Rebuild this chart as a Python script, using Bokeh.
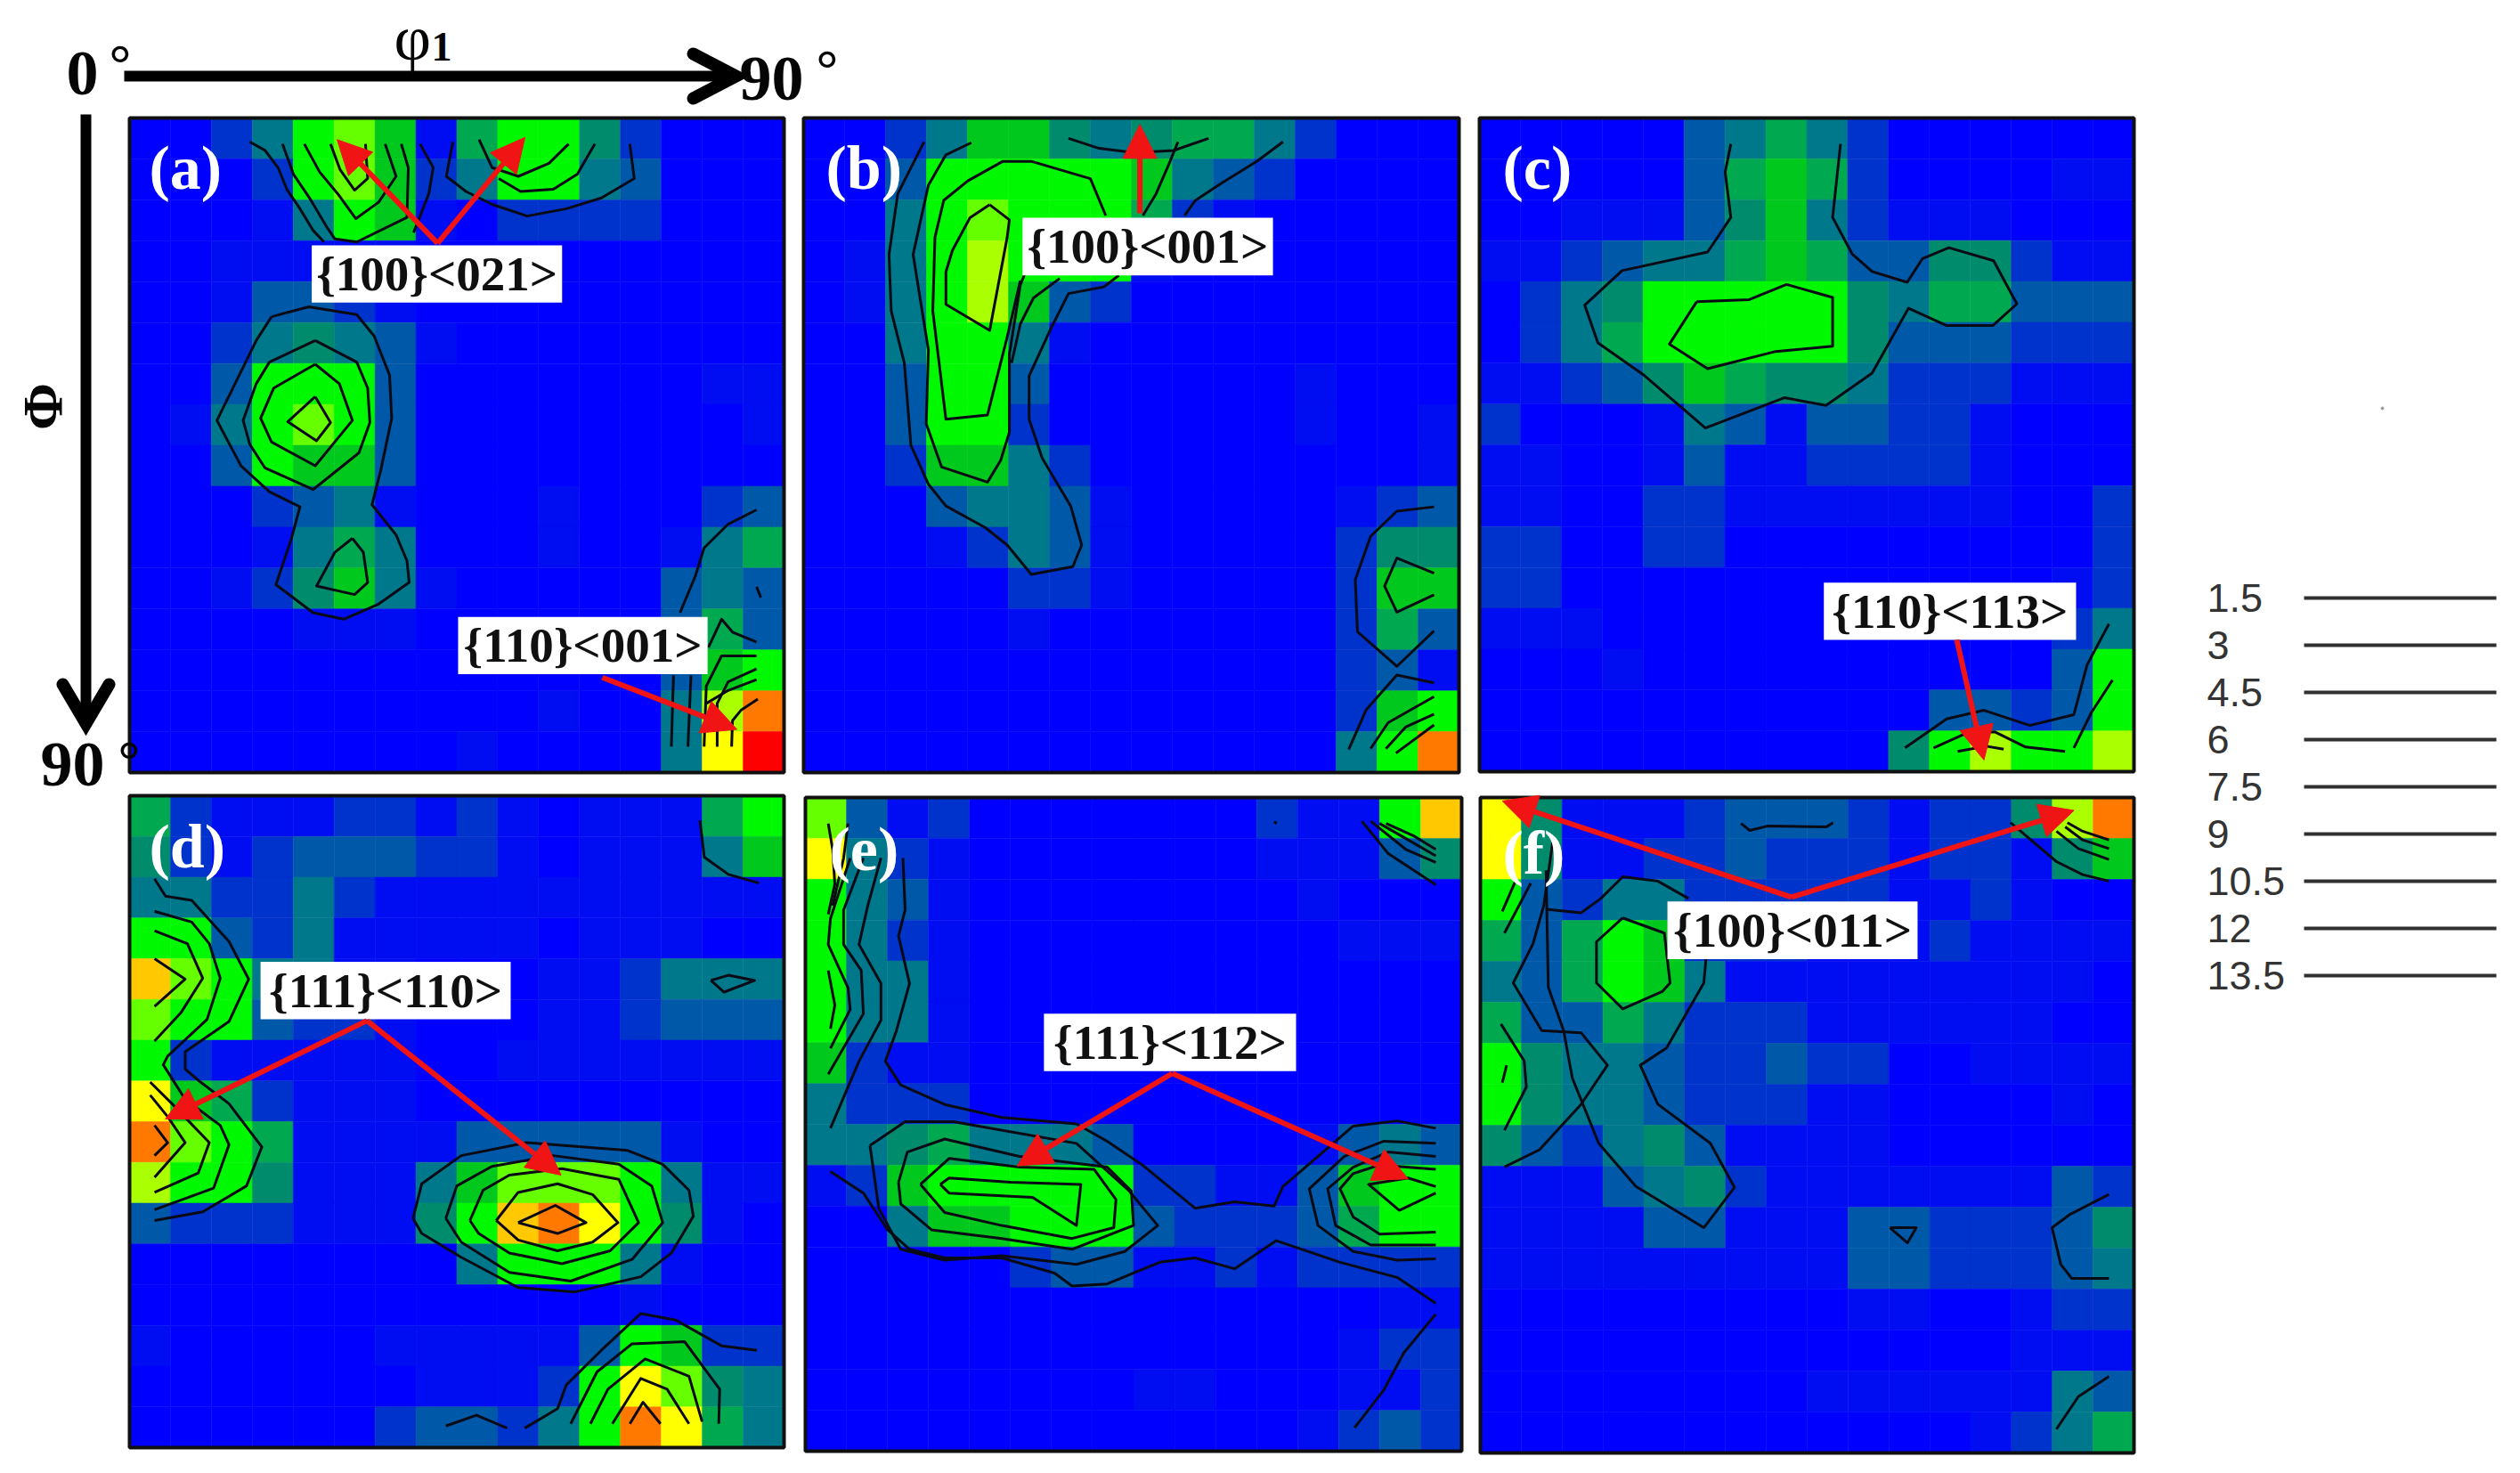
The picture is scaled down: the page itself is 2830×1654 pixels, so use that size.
from bokeh.plotting import figure
from bokeh.models import LinearColorMapper, Arrow, NormalHead, ColumnDataSource
from bokeh.core.properties import value
from bokeh.embed import file_html
from bokeh.resources import INLINE

# ODF intensity level (0..14) of every 5.6 degree cell, row by row from the top
LEVEL_COLORS = ["#0000ff", "#000df2", "#0032cc", "#0058a8", "#00788c", "#008c6c", "#00a850", "#00c81c",
                "#00f800", "#66ff00", "#aaff00", "#ffff00", "#ffc800", "#ff7800", "#ff0000"]

GRID_A = [
 [0,0,2,4,8,9,7,1,6,8,8,5,2,0,0,0],
 [0,0,0,2,8,9,7,2,4,8,8,4,3,0,0,0],
 [0,0,0,1,4,8,7,1,0,2,2,2,2,0,0,0],
 [0,0,1,1,1,1,1,0,0,0,0,0,0,0,0,0],
 [0,0,1,3,3,2,1,0,0,0,0,0,0,0,0,0],
 [0,0,2,4,5,4,3,1,0,0,0,0,0,0,0,0],
 [0,0,3,8,8,8,3,0,0,0,0,0,0,0,1,1],
 [0,1,4,8,9,8,3,0,0,0,0,0,0,0,0,1],
 [0,0,3,8,7,7,3,0,0,0,0,0,0,0,0,0],
 [0,0,0,2,3,4,1,0,0,0,1,0,0,0,2,3],
 [0,0,0,1,4,6,4,0,0,0,1,0,0,1,4,6],
 [0,0,1,2,5,7,4,1,0,0,0,0,0,3,4,3],
 [0,0,0,0,1,1,1,0,0,0,0,0,0,3,6,3],
 [0,0,0,0,0,0,0,0,0,0,0,0,0,3,7,8],
 [0,0,0,0,0,0,0,0,0,0,1,0,0,4,10,13],
 [0,0,0,0,0,0,0,0,1,0,0,0,0,4,11,14],
]
GRID_B = [
 [0,0,2,4,7,7,5,4,5,6,6,4,2,0,0,0],
 [0,0,3,8,8,8,8,8,7,4,3,2,0,0,0,0],
 [0,0,4,8,9,8,8,8,6,2,1,0,0,0,0,0],
 [0,1,4,8,10,8,8,8,1,0,0,0,0,0,0,0],
 [0,1,4,8,10,7,3,2,0,0,0,0,0,0,0,0],
 [0,0,4,8,8,4,1,0,0,0,0,0,0,0,0,0],
 [0,0,3,8,8,3,0,0,0,0,0,0,1,0,0,0],
 [0,0,3,8,8,2,0,0,0,0,0,0,1,0,0,1],
 [0,0,2,7,7,4,2,0,0,0,0,0,0,0,0,1],
 [0,0,0,3,4,4,3,1,0,0,0,0,0,1,2,3],
 [0,0,0,1,2,4,3,1,0,0,0,0,0,2,5,5],
 [0,0,0,0,0,2,2,1,0,0,0,0,0,2,7,7],
 [0,0,0,0,0,1,0,0,0,0,0,0,0,2,6,3],
 [0,0,0,0,0,0,0,0,0,0,0,0,0,2,3,1],
 [0,0,0,0,0,0,0,0,0,0,0,0,0,2,7,8],
 [0,0,0,0,0,0,0,0,0,0,0,0,0,4,8,13],
]
GRID_C = [
 [0,0,0,0,0,3,4,6,4,2,0,0,0,0,0,0],
 [0,0,0,0,0,3,6,7,6,2,0,0,0,0,1,1],
 [0,0,1,1,1,3,5,7,4,2,1,1,1,0,0,0],
 [1,1,2,3,4,4,6,7,6,3,3,5,5,2,1,1],
 [0,2,4,5,8,8,8,8,8,5,4,6,6,3,3,3],
 [0,2,4,6,8,8,8,8,8,5,3,3,3,2,2,2],
 [1,1,2,3,5,7,6,5,5,4,2,2,2,1,1,1],
 [2,0,0,0,1,4,3,1,3,3,2,2,1,0,0,0],
 [1,1,0,0,1,3,1,1,2,2,2,2,1,0,0,0],
 [1,1,0,0,2,2,1,1,1,1,1,1,1,0,0,2],
 [2,2,0,0,2,2,0,0,0,0,0,0,0,0,0,2],
 [2,2,0,0,0,0,0,0,0,0,0,0,0,0,1,2],
 [1,1,1,0,0,0,0,0,0,0,0,0,0,0,2,4],
 [0,0,0,1,0,0,0,0,0,0,0,0,0,0,3,8],
 [0,0,0,0,0,0,0,0,0,0,0,3,3,2,3,8],
 [0,0,0,0,0,0,0,0,0,0,5,8,10,8,8,10],
]
GRID_D = [
 [6,2,1,1,1,2,2,1,2,1,0,1,1,1,6,8],
 [5,2,1,2,3,3,3,2,2,1,0,1,1,1,4,7],
 [4,4,2,2,4,2,1,1,1,1,1,1,1,1,1,1],
 [8,8,3,2,4,1,1,1,1,1,0,1,1,1,0,0],
 [12,9,8,4,4,1,1,0,0,0,1,1,2,4,4,4],
 [9,8,8,3,2,2,1,0,0,0,1,1,2,3,3,3],
 [8,2,1,1,1,1,1,0,0,1,1,1,1,1,1,1],
 [11,7,6,2,1,1,1,0,0,0,0,0,0,0,0,0],
 [13,9,8,6,1,1,1,1,3,3,3,3,3,1,0,0],
 [10,8,8,5,1,1,1,4,7,9,9,9,8,4,1,1],
 [3,2,2,2,1,1,1,5,8,12,13,11,8,5,1,0],
 [0,0,0,0,0,0,0,0,4,8,8,8,4,1,0,0],
 [0,0,0,0,0,0,0,0,0,0,0,0,1,0,0,0],
 [1,0,0,0,0,0,1,1,1,1,1,3,8,7,2,2],
 [0,0,0,0,0,0,0,1,1,1,2,8,11,9,5,4],
 [0,0,0,0,0,0,2,3,3,2,4,8,13,11,6,4],
]
GRID_E = [
 [9,3,1,2,0,0,0,0,0,0,0,2,1,1,8,12],
 [11,4,2,1,0,0,0,0,0,0,0,1,1,1,3,5],
 [8,4,3,1,0,0,0,0,0,0,0,0,1,0,0,0],
 [8,4,2,1,0,0,0,0,0,0,0,0,0,1,1,1],
 [8,4,4,1,0,0,0,0,0,0,0,0,0,0,0,0],
 [8,4,4,1,0,0,0,0,0,0,0,0,0,0,0,0],
 [7,2,1,1,0,0,0,0,0,0,0,0,0,0,0,0],
 [4,2,2,2,0,0,0,0,0,0,0,0,0,0,0,0],
 [4,4,5,6,4,4,4,3,0,0,0,0,1,3,4,3],
 [1,2,7,8,8,8,8,8,2,2,1,1,3,7,8,8],
 [0,0,4,7,7,8,8,8,3,2,2,2,3,6,8,8],
 [0,0,0,0,0,2,3,3,1,1,2,1,2,2,2,2],
 [0,0,0,0,0,0,0,0,0,0,0,0,0,0,1,1],
 [0,0,0,0,0,0,0,0,0,0,0,0,0,1,2,2],
 [0,0,0,0,0,0,0,0,1,1,0,0,0,1,1,2],
 [0,0,0,0,0,0,0,0,0,0,0,0,1,2,3,2],
]
GRID_F = [
 [11,5,1,1,1,2,3,3,3,2,1,2,2,5,10,13],
 [11,5,1,1,2,2,3,2,2,2,1,2,2,1,5,7],
 [8,3,2,4,4,2,2,2,2,2,1,1,2,1,0,0],
 [6,3,6,8,7,2,2,2,1,1,1,2,1,1,1,1],
 [4,3,6,8,7,4,1,1,1,1,1,1,1,1,1,0],
 [6,3,3,6,4,2,2,2,1,1,1,1,1,1,0,0],
 [8,5,4,4,3,2,2,3,2,2,0,0,1,1,1,1],
 [8,5,4,4,3,2,2,2,1,1,0,0,0,0,1,0],
 [5,3,2,4,5,3,1,1,1,1,0,0,0,0,0,0],
 [1,1,1,3,4,5,2,1,1,1,1,1,1,1,3,2],
 [1,1,1,1,3,3,1,1,1,3,3,2,2,2,3,5],
 [1,1,1,1,1,1,1,1,1,3,3,2,2,2,3,4],
 [0,0,0,0,0,0,0,0,0,1,1,0,0,1,2,2],
 [0,0,0,0,0,0,0,0,0,0,0,0,0,1,1,1],
 [0,0,0,0,0,0,0,0,1,1,1,1,1,1,4,3],
 [0,0,0,0,0,0,0,0,0,0,0,0,1,2,4,6],
]

# Contour traces, in reading units of that panel's box (READ_BOXES)
READ_BOXES = {"a": (30,25,1528,1540), "b": (25,25,1522,1535), "c": (25,25,1517,1537),
              "d": (33,28,1527,1535), "e": (33,30,1527,1542), "f": (25,32,1517,1545)}
CONTOURS_A = [
 [(490,85),(512,145),(545,192),(575,165),(570,85)],
 [(430,85),(465,150),(510,205),(548,258),(600,220),(640,160),(615,85)],
 [(380,85),(405,155),(445,215),(480,275),(500,305),(550,312),(665,255),(668,140),(652,85)],
 [(305,80),(340,100),(370,140),(390,190),(420,235),(450,285),(475,312)],
 [(695,85),(725,140),(715,200),(690,265),(680,290)],
 [(830,75),(860,140),(920,160),(990,130),(1035,85)],
 [(875,165),(925,195),(1000,190),(1055,155),(1095,85)],
 [(770,80),(755,160),(800,195),(860,225),(940,252),(1030,235),(1110,210),(1185,165),(1175,85)],
 [(355,485),(440,462),(550,480),(590,530),(625,620),(630,720),(605,840),(585,920),(640,990),(665,1050),(670,1100),(600,1150),(520,1185),(450,1170),(365,1105),(400,1000),(420,925),(350,890),(285,830),(230,725),(320,540),(355,485)],
 [(455,540),(550,590),(575,650),(580,730),(555,800),(450,885),(340,835),(305,780),(290,725),(320,640),(350,590),(455,540)],
 [(455,595),(510,640),(540,725),(455,830),(355,775),(330,720),(360,650),(455,595)],
 [(455,670),(490,730),(458,772),(392,728),(455,670)],
 [(540,998),(565,1030),(575,1100),(545,1128),(458,1108),(500,1030),(540,998)],
 [(1465,932),(1400,965),(1345,1020),(1325,1085),(1290,1170)],
 [(1465,1110),(1475,1135)],
 [(1275,1315),(1270,1480)],
 [(1315,1315),(1308,1480)],
 [(1355,1250),(1385,1185),(1410,1215),(1465,1238)],
 [(1345,1480),(1350,1340),(1385,1270),(1465,1270)],
 [(1375,1480),(1375,1380),(1400,1330),(1465,1300)],
 [(1408,1480),(1410,1420),(1430,1395),(1468,1370)],
 [(1350,1380),(1400,1350),(1465,1325)],
]
CONTOURS_B = [
 [(300,80),(240,200),(220,340),(225,470),(255,590),(270,780),(310,870),(350,920),(440,970),(490,1010),(545,1078),(640,1060),(660,1010),(635,920),(570,810),(540,720),(540,620),(590,510),(630,430),(710,415),(745,388)],
 [(408,82),(350,110),(310,180),(275,340),(310,560),(305,730),(340,830),(445,865),(475,815),(495,750),(495,570),(520,410),(530,385)],
 [(715,250),(680,165),(545,125),(480,125),(400,170),(345,215),(325,300),(320,470),(350,720),(445,710),(490,530),(520,400)],
 [(450,225),(495,260),(490,300),(450,515),(350,455),(350,380),(365,330),(405,255),(450,225)],
 [(500,590),(520,500),(550,440),(610,395)],
 [(630,72),(700,95),(780,105),(870,100),(950,72)],
 [(880,80),(860,130),(830,200),(800,250)],
 [(1120,80),(1060,125),(980,175),(920,215),(895,250)],
 [(1465,922),(1380,932),(1320,990),(1285,1090),(1290,1210),(1380,1290),(1465,1208)],
 [(1465,1075),(1380,1040),(1352,1105),(1380,1165),(1465,1125)],
 [(1270,1482),(1310,1390),(1380,1310),(1465,1328)],
 [(1320,1480),(1360,1420),(1465,1360)],
 [(1355,1480),(1400,1430),(1465,1400)],
 [(1378,1490),(1465,1425)],
]
CONTOURS_C = [
 [(598,85),(585,150),(598,255),(545,335),(350,378),(265,458),(295,545),(400,620),(540,742),(720,672),(815,690),(920,615),(1003,465),(1090,505),(1195,505),(1250,455),(1197,355),(1095,325),(1035,350),(1000,405),(920,380),(875,340),(830,255),(848,85)],
 [(520,450),(640,445),(725,410),(830,440),(830,553),(700,565),(545,605),(458,548),(520,450)],
 [(995,1482),(1090,1415),(1175,1395),(1280,1430),(1380,1405),(1410,1290),(1460,1195)],
 [(1060,1482),(1130,1450),(1200,1445),(1270,1480),(1360,1490)],
 [(1380,1482),(1420,1400),(1468,1325)],
 [(1115,1490),(1180,1478),(1220,1485)],
]
CONTOURS_D = [
 [(90,220),(115,260),(175,270),(260,365),(305,452),(260,550),(160,620),(160,660),(195,690),(260,740),(335,840),(300,930),(200,990),(90,1010)],
 [(90,295),(175,320),(215,370),(240,450),(210,545),(120,630),(110,650),(160,730),(240,790),(260,835),(225,935),(90,985)],
 [(90,340),(165,370),(200,450),(150,530),(90,595)],
 [(90,405),(160,452),(90,515)],
 [(80,690),(130,740),(215,830),(190,900),(90,945)],
 [(80,720),(120,770),(160,830),(90,910)],
 [(90,790),(120,830),(90,860)],
 [(1335,85),(1345,170),(1400,210),(1470,230)],
 [(1360,455),(1400,443),(1460,455),(1390,482),(1360,455)],
 [(680,1005),(700,925),(790,860),(940,830),(1170,848),(1250,880),(1310,940),(1320,1000),(1270,1085),(1200,1140),(1050,1175),(920,1165),(790,1095),(700,1040),(680,1005)],
 [(755,1005),(780,930),(860,885),(1000,860),(1150,880),(1225,930),(1250,1015),(1180,1100),(1040,1150),(900,1130),(790,1060),(755,1005)],
 [(810,1010),(840,940),(900,905),(1020,890),(1150,915),(1195,1015),(1130,1080),(1020,1110),(900,1085),(830,1040),(810,1010)],
 [(870,1010),(920,945),(1010,925),(1090,950),(1148,1015),(1090,1060),(1010,1080),(920,1055),(870,1010)],
 [(920,1015),(1005,975),(1075,1015),(1010,1040),(920,1015)],
 [(755,1485),(825,1460),(895,1490)],
 [(935,1490),(1010,1445),(1030,1390),(1110,1310),(1200,1225),(1280,1240),(1385,1300),(1465,1310)],
 [(1040,1480),(1100,1360),(1180,1295),(1300,1290),(1380,1400),(1378,1480)],
 [(1085,1480),(1125,1400),(1210,1330),(1310,1370),(1340,1475)],
 [(1135,1480),(1200,1375),(1260,1400),(1310,1480)],
 [(1175,1480),(1205,1430),(1245,1480)],
]
CONTOURS_E = [
 [(255,170),(260,290),(245,350),(270,460),(240,570),(215,640),(250,695),(350,740),(480,770),(650,785),(720,825),(800,880),(920,980),(1010,965),(1100,975),(1120,930),(1280,790),(1380,778),(1468,795)],
 [(205,170),(175,280),(155,370),(205,460),(205,545),(155,640),(90,795)],
 [(165,170),(120,290),(120,370),(160,430),(165,530),(85,670)],
 [(135,170),(90,310),(85,370),(130,470),(135,520),(90,610)],
 [(85,430),(100,510),(90,565)],
 [(85,90),(95,150),(100,230),(85,300)],
 [(130,90),(120,170),(95,280)],
 [(180,835),(260,780),(370,780),(650,830),(770,940),(835,1020),(760,1080),(650,1110),(480,1090),(350,1100),(250,1075),(200,980),(180,835)],
 [(245,920),(265,850),(350,820),(520,860),(720,885),(775,940),(780,1020),(640,1075),(480,1050),(320,1030),(250,970),(245,920)],
 [(295,925),(360,865),(520,885),(690,890),(740,960),(735,1025),(640,1050),(480,1020),(350,990),(295,925)],
 [(340,925),(360,910),(500,920),(660,925),(650,1020),(550,955),(360,945),(340,925)],
 [(90,895),(165,945),(220,1030),(270,1075),(350,1095),(480,1095),(600,1130),(640,1160),(720,1155),(840,1105),(920,1095),(1010,1120),(1105,1055),(1250,1105),(1380,1140),(1468,1200)],
 [(1468,830),(1350,825),(1260,860),(1180,935),(1200,1020),(1280,1080),(1380,1100),(1468,1097)],
 [(1468,860),(1360,850),(1280,885),(1222,935),(1240,1020),(1320,1065),(1468,1065)],
 [(1468,890),(1340,880),(1280,900),(1250,935),(1280,1000),(1340,1040),(1468,1035)],
 [(1468,945),(1385,985),(1315,925),(1405,910),(1468,930)],
 [(1468,1225),(1395,1315),(1350,1400),(1283,1488)],
 [(1300,85),(1360,160),(1468,232)],
 [(1320,85),(1400,150),(1468,180)],
 [(1340,90),(1400,125),(1468,165)],
 [(1355,90),(1420,120),(1468,150)],
 [(1100,86),(1106,90)],
]
CONTOURS_F = [
 [(620,92),(640,108),(680,98),(815,100),(830,90)],
 [(1235,90),(1340,180),(1400,210),(1460,225)],
 [(1340,110),(1390,150),(1460,175)],
 [(1360,100),(1400,130),(1460,150)],
 [(1365,90),(1400,110),(1460,130)],
 [(190,135),(170,280),(145,370),(100,460),(165,570),(255,575),(315,650),(255,740),(160,845),(80,885)],
 [(175,200),(180,470),(215,570),(235,680),(295,830),(380,930),(535,1025),(605,932),(550,830),(430,740),(390,650),(450,610),(535,460),(540,405)],
 [(175,290),(255,298),(300,265),(350,215),(430,225),(500,265)],
 [(350,310),(445,345),(458,460),(440,480),(350,520),(290,460),(290,365),(350,310)],
 [(72,555),(125,640),(130,700),(80,800)],
 [(85,650),(75,690)],
 [(140,230),(80,345)],
 [(105,225),(75,295)],
 [(960,1025),(1020,1025),(1000,1060),(960,1025)],
 [(1460,948),(1370,995),(1330,1025),(1350,1110),(1375,1142),(1460,1142)],
 [(1460,1368),(1390,1415),(1340,1490)],
]

# Texture component call-outs: (text, box corners, [arrow start and tip]) in the same reading units
CALLOUTS_A = [("{100}<021>", (447,320,1020,452), [(735,315,505,75),(735,315,935,70)]),
              ("{110}<001>", (782,1180,1353,1312), [(1112,1320,1420,1440)])]
CALLOUTS_B = [("{100}<001>", (525,255,1097,388), [(793,245,793,40)])]
CALLOUTS_C = [("{110}<113>", (810,1100,1385,1232), [(1113,1232,1175,1510)])]
CALLOUTS_D = [("{111}<110>", (332,412,903,545), [(575,548,115,775),(575,548,1018,905)])]
CALLOUTS_E = [("{111}<112>", (576,530,1150,663), [(868,668,515,882),(868,668,1405,912)])]
CALLOUTS_F = [("{100}<011>", (452,272,1023,405), [(735,262,75,40),(735,262,1380,62)])]

LEGEND_LABELS = ["1.5", "3", "4.5", "6", "7.5", "9", "10.5", "12", "13.5"]
LEGEND_Y = [671, 724, 777, 830, 883, 936, 989, 1042, 1095]

# Panel frames on the page: left, top, right, bottom
PANELS = [
 ("a", "(a)", (145,132,880,867), GRID_A, CONTOURS_A, CALLOUTS_A),
 ("b", "(b)", (902,132,1638,867), GRID_B, CONTOURS_B, CALLOUTS_B),
 ("c", "(c)", (1661,132,2396,866), GRID_C, CONTOURS_C, CALLOUTS_C),
 ("d", "(d)", (145,893,880,1625), GRID_D, CONTOURS_D, CALLOUTS_D),
 ("e", "(e)", (904,895,1641,1629), GRID_E, CONTOURS_E, CALLOUTS_E),
 ("f", "(f)", (1662,895,2396,1631), GRID_F, CONTOURS_F, CALLOUTS_F),
]
LETTER_POS = {"a": (22,56), "b": (25,56), "c": (26,56), "d": (22,57), "e": (27,58), "f": (25,62)}

SERIF = value("Liberation Serif")
SANS = value("Liberation Sans")
RED = "#f01414"

p = figure(width=2814, height=1638, x_range=(0, 2814), y_range=(1638, 0),
           output_backend="svg", toolbar_location=None, min_border=0,
           x_axis_type=None, y_axis_type=None, background_fill_color="white", outline_line_color=None)
p.grid.visible = False

mapper = LinearColorMapper(palette=LEVEL_COLORS, low=-0.5, high=14.5)
cells = dict(x=[], y=[], w=[], h=[], level=[])
for key, _, (l, t, r, b), grid, _, _ in PANELS:
    cw, ch = (r - l) / 16, (b - t) / 16
    for i, row in enumerate(grid):
        for j, v in enumerate(row):
            cells["x"].append(l + (j + .5) * cw)
            cells["y"].append(t + (i + .5) * ch)
            cells["w"].append(cw)
            cells["h"].append(ch)
            cells["level"].append(v)
col = {"field": "level", "transform": mapper}
p.rect("x", "y", "w", "h", source=ColumnDataSource(cells), fill_color=col, line_color=col, line_width=0.5)


def mapper_for(key, box):
    x0, y0, x1, y1 = READ_BOXES[key]
    l, t, r, b = box
    return (lambda x: l + (x - x0) / (x1 - x0) * (r - l)), (lambda y: t + (y - y0) / (y1 - y0) * (b - t))


for key, letter, box, grid, contours, callouts in PANELS:
    fx, fy = mapper_for(key, box)
    p.multi_line([[fx(a) for a, _ in c] for c in contours], [[fy(b) for _, b in c] for c in contours],
                 line_color="#0a0a14", line_width=3, line_join="round")
    l, t, r, b = box
    p.quad(left=[l], right=[r], top=[t], bottom=[b], fill_alpha=0, line_color="#101010", line_width=4)
    lx, ly = LETTER_POS[key]
    p.text([l + lx], [t + ly], text=[letter], text_color="white", text_font=SERIF,
           text_font_style="bold", text_font_size="70px", text_align="left", text_baseline="middle")
    for text, (a, c, d, e), arrows in callouts:
        p.quad(left=[fx(a)], right=[fx(d)], top=[fy(c)], bottom=[fy(e)], fill_color="white", line_color=None)
        p.text([(fx(a) + fx(d)) / 2], [(fy(c) + fy(e)) / 2], text=[text], text_color="#101010", text_font=SERIF,
               text_font_style="bold", text_font_size="55px", text_align="center", text_baseline="middle")
        for (xs, ys, xe, ye) in arrows:
            p.add_layout(Arrow(x_start=fx(xs), y_start=fy(ys), x_end=fx(xe), y_end=fy(ye),
                               line_color=RED, line_width=6,
                               end=NormalHead(size=38, fill_color=RED, line_color=RED, line_width=1)))

# Axis arrows
p.segment([139], [85], [822], [85], line_color="black", line_width=12)
p.multi_line([[778, 826, 778]], [[60, 85, 110]], line_color="black", line_width=14, line_cap="round", line_join="miter")
p.segment([96], [128], [96], [805], line_color="black", line_width=12)
p.multi_line([[70, 96, 122]], [[768, 812, 768]], line_color="black", line_width=14, line_cap="round", line_join="miter")

AXIS_TEXTS = [("0", 74, 82, 72, 0.0, "bold"), ("°", 122, 70, 62, 0.0, "bold"), ("90", 830, 88, 72, 0.0, "bold"),
              ("°", 916, 76, 62, 0.0, "bold"), ("φ", 442, 42, 72, 0.0, "normal"), ("1", 484, 52, 46, 0.0, "bold"),
              ("90", 45, 858, 72, 0.0, "bold"), ("°", 132, 852, 62, 0.0, "bold")]
for s, x, y, size, ang, style in AXIS_TEXTS:
    p.text([x], [y], text=[s], text_color="#050505", text_font=SERIF, text_font_style=style,
           text_font_size=f"{size}px", text_align="left", text_baseline="middle", angle=ang)
p.text([48], [456], text=["Φ"], text_color="#050505", text_font=SERIF, text_font_style="bold", text_font_size="64px",
       text_align="center", text_baseline="middle", angle=1.5708)

# Contour level key
p.segment([2587] * 9, LEGEND_Y, [2803] * 9, LEGEND_Y, line_color="#303030", line_width=4)
p.text([2478] * 9, LEGEND_Y, text=LEGEND_LABELS, text_color="#333333", text_font=SANS, text_font_size="45px",
       text_align="left", text_baseline="middle")
p.scatter([2675], [458], size=3, color="#999999")

open("out.html", "w").write(file_html(p, INLINE))
